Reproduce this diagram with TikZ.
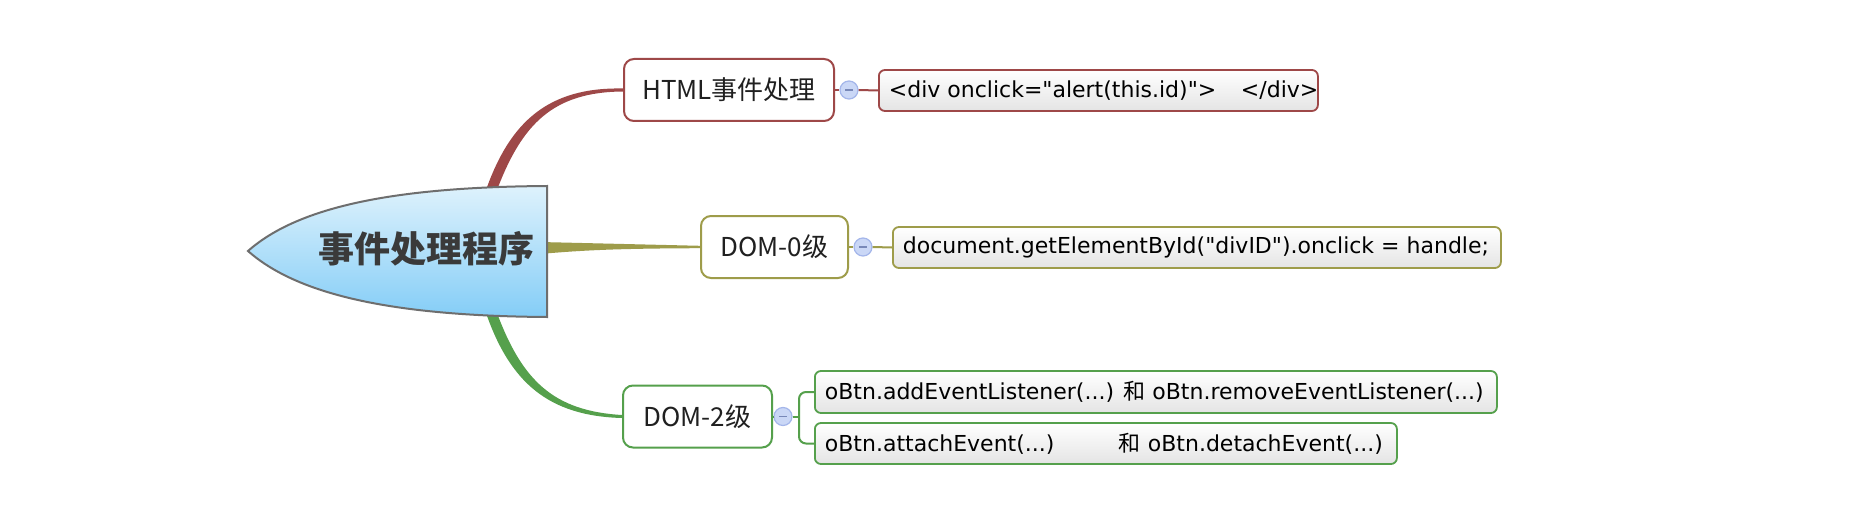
\documentclass[tikz,border=0pt]{standalone}
\usepackage{fontspec}
\setmainfont{DejaVu Sans}
\newfontfamily\cjk{Noto Sans CJK SC}
\usetikzlibrary{calc}
\definecolor{redb}{HTML}{9E4848}
\definecolor{oliveb}{HTML}{9E9C4A}
\definecolor{greenb}{HTML}{55A04C}
\definecolor{txt}{HTML}{202020}
\definecolor{leafgray}{HTML}{E4E4E4}
\definecolor{togd}{HTML}{A4B6EA}
\definecolor{togf}{HTML}{CAD7F6}
\definecolor{togm}{HTML}{7888B8}
\definecolor{shapeb}{HTML}{6E6E6E}
\definecolor{shapetop}{HTML}{DEF2FC}
\definecolor{shapebot}{HTML}{84CDF7}
\definecolor{ctext}{HTML}{3A3A3A}
\newcommand{\dq}{\textquotedbl}
\tikzset{
  mainnode/.style={draw=#1, line width=2pt, rounded corners=10pt, fill=white,
    minimum height=62pt, inner sep=0pt, font=\cjk\fontsize{26}{30}\selectfont, text=txt},
  leaf/.style={draw=#1, line width=1.8pt, rounded corners=6pt, top color=white,
    bottom color=leafgray, minimum height=41pt, inner xsep=10pt, inner ysep=0pt,
    font=\fontsize{22}{26}\selectfont, text=black, anchor=west},
  toggle/.style={circle, draw=togd, fill=togf, line width=1.2pt, minimum size=18pt,
    inner sep=0pt, path picture={\draw[togm, line width=1.6pt]
      ([xshift=-4pt]path picture bounding box.center) -- ([xshift=4pt]path picture bounding box.center);}},
  conn/.style={draw=#1, line width=2pt},
}
\begin{document}
\begin{tikzpicture}[x=1pt,y=-1pt]
\useasboundingbox[fill=white] (0,0) rectangle (1852,524);

% main nodes
\node[mainnode=redb, minimum width=210pt] (html) at (729,90) {HTML事件处理};
\node[mainnode=oliveb, minimum width=147pt] (dom0) at (774.5,247) {DOM-0级};
\node[mainnode=greenb, minimum width=149pt] (dom2) at (697.5,416.5) {DOM-2级};

% central shape anchor points
\coordinate (ctopL) at (486,190);
\coordinate (ctopR) at (497,190);
\coordinate (cbotL) at (486,313);
\coordinate (cbotR) at (497,313);
\coordinate (cmidT) at (540,242);
\coordinate (cmidB) at (540,254);

% tapered branches
\fill[redb] (ctopL) .. controls (510,122) and (548,87) .. ($(html.west)+(0,-1.5)$)
  -- ($(html.west)+(0,1.5)$) .. controls (553,92) and (522,124) .. (ctopR) -- cycle;
\fill[greenb] (cbotL) .. controls (510,382) and (548,416) .. ($(dom2.west)+(0,1.5)$)
  -- ($(dom2.west)+(0,-1.5)$) .. controls (553,411) and (522,380) .. (cbotR) -- cycle;
\fill[oliveb] (cmidT) -- ($(dom0.west)+(0,-1.2)$) -- ($(dom0.west)+(0,1.2)$)
  .. controls (620,248.5) and (585,250) .. (cmidB) -- cycle;

% central shape
\path[draw=shapeb, line width=2pt, top color=shapetop, bottom color=shapebot]
  (248,251) .. controls (300,205) and (400,187) .. (547,186) -- (547,317)
  .. controls (400,316) and (300,297) .. (248,251) -- cycle;
\node[font=\cjk\bfseries\fontsize{36}{40}\selectfont, text=ctext] (center) at (426,249) {事件处理程序};

% toggles
\node[toggle] (t1) at (849,90) {};
\node[toggle] (t2) at (863,247) {};
\node[toggle] (t3) at (783,416.5) {};

% leaves
\node[leaf=redb] (l1) at (878,90.5) {\makebox[419pt][l]{\makebox[352pt][l]{<div onclick=\dq alert(this.id)\dq>}</div>}};
\node[leaf=oliveb] (l2) at (892,247.5) {\makebox[588pt][l]{document.getElementById(\dq divID\dq).onclick = handle;}};
\node[leaf=greenb, minimum height=42pt] (l3) at (814,392) {\makebox[662pt][l]{oBtn.addEventListener(...) {\cjk 和} oBtn.removeEventListener(...)}};
\node[leaf=greenb] (l4) at (814,443.5) {\makebox[562pt][l]{\makebox[294pt][l]{oBtn.attachEvent(...)}{\cjk 和} oBtn.detachEvent(...)}};

% thin connectors
\draw[conn=redb] (html.east) -- (t1.west);
\draw[conn=redb] (t1.east) -- (l1.west);
\draw[conn=oliveb] (dom0.east) -- (t2.west);
\draw[conn=oliveb] (t2.east) -- (l2.west);
\draw[conn=greenb] (dom2.east) -- (t3.west);
\coordinate (bx) at (799,416.5);
\draw[conn=greenb] (t3.east) -- (bx);
\draw[conn=greenb, rounded corners=7pt] (l3.west) -| (bx) |- (l4.west);
\end{tikzpicture}
\end{document}
